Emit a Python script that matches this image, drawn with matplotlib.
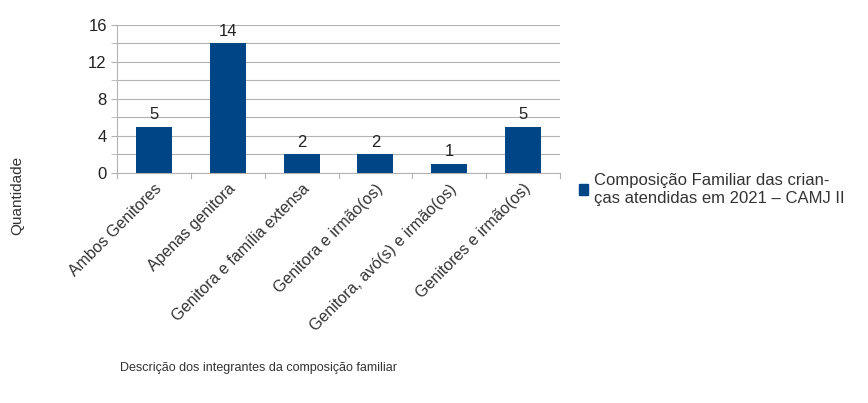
import matplotlib
matplotlib.use("Agg")
import matplotlib.pyplot as plt
from matplotlib.patches import Patch

plt.rcParams['font.family'] = ['Liberation Sans', 'DejaVu Sans']

categorias = ["Ambos Genitores", "Apenas genitora", "Genitora e família extensa",
              "Genitora e irmão(os)", "Genitora, avó(s) e irmão(os)", "Genitores e irmão(os)"]
quantidades = [5, 14, 2, 2, 1, 5]
serie = "Composição Familiar das crian-\nças atendidas em 2021 – CAMJ II"

fig = plt.figure(figsize=(8.68, 4.03), dpi=100)
ax = fig.add_axes([0.135, 0.571, 0.51, 0.367])

x = list(range(len(categorias)))
bars = ax.bar(x, quantidades, width=0.49, color='#004586', zorder=3)
for b, v in zip(bars, quantidades):
  ax.text(b.get_x() + b.get_width()/2, v + 0.5, str(v), ha='center', va='bottom',
          fontsize=12, color='#222222')

ax.set_xlim(-0.5, len(categorias) - 0.5)
ax.set_ylim(0, 16)
ax.set_yticks([0, 4, 8, 12, 16])
ax.set_yticks([2, 6, 10, 14], minor=True)
ax.grid(axis='y', which='both', color='#b3b3b3', linewidth=0.8, zorder=0)
ax.tick_params(axis='y', which='both', length=4, color='#b3b3b3', labelsize=12, labelcolor='#222222')

ax.set_xticks(x)
ax.set_xticklabels(categorias, rotation=45, ha='right', rotation_mode='anchor',
                   fontsize=11.5, color='#333333')
ax.tick_params(axis='x', length=0, pad=6)
# marcas nas divisas das categorias
for b in [i - 0.5 for i in range(len(categorias) + 1)]:
  ax.plot([b, b], [0, -0.5], color='#b3b3b3', lw=0.8, clip_on=False, zorder=2)

for s in ['top', 'right']:
  ax.spines[s].set_visible(False)
ax.spines['left'].set_color('#b3b3b3')
ax.spines['bottom'].set_color('#b3b3b3')

fig.text(0.02, 0.515, "Quantidade", rotation=90, ha='center', va='center', fontsize=11, color='#333333')
fig.text(0.138, 0.087, "Descrição dos integrantes da composição familiar", ha='left', va='center',
         fontsize=9, color='#333333')

leg = fig.legend(handles=[Patch(color='#004586', label=serie)], loc='center left',
                 bbox_to_anchor=(0.65, 0.53), frameon=False, fontsize=12,
                 handlelength=0.55, handleheight=0.55, handletextpad=0.35, labelcolor='#333333',
                 labelspacing=0.1)

fig.savefig("out.png", dpi=100, facecolor='white')
